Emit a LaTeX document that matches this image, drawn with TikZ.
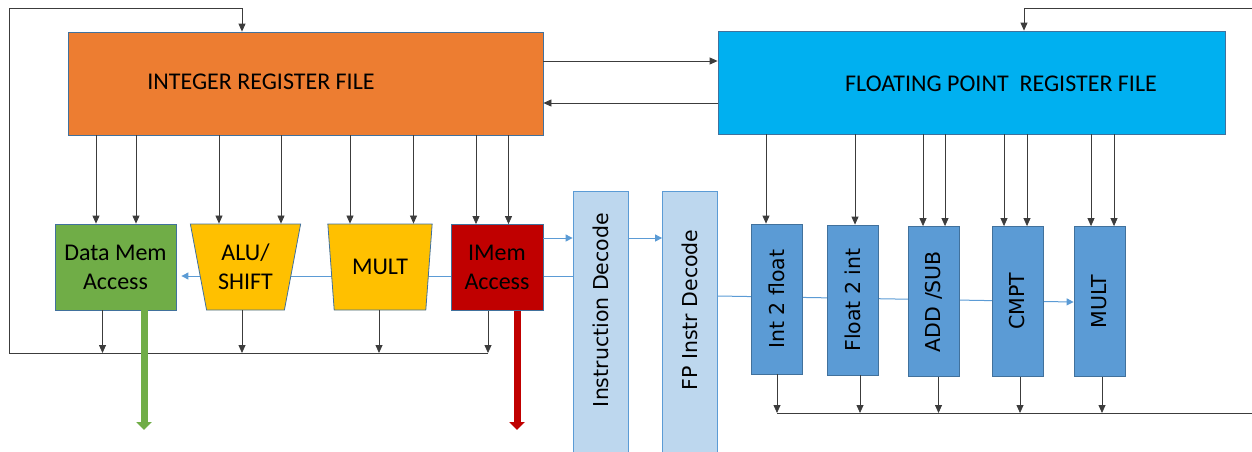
\documentclass[tikz,border=0pt]{standalone}
\usepackage{fontspec}
\setmainfont{Carlito}
\newfontfamily\vfont{DejaVu Sans}
\usetikzlibrary{arrows.meta,shapes.geometric,backgrounds}
\definecolor{cpuorange}{RGB}{237,125,49}
\definecolor{cpucyan}{RGB}{0,176,240}
\definecolor{cpugreen}{RGB}{112,173,71}
\definecolor{cpuyellow}{RGB}{255,192,0}
\definecolor{cpured}{RGB}{192,0,0}
\definecolor{cpublue}{RGB}{91,155,213}
\definecolor{cpupale}{RGB}{189,215,238}
\definecolor{cpuedge}{RGB}{65,113,156}
\definecolor{cpuwire}{RGB}{60,60,60}
\tikzset{
  regbox/.style={draw=cpuedge, line width=0.8pt, minimum height=103pt, inner sep=0pt},
  regtext/.style={font=\fontsize{24}{28}\selectfont},
  unitbox/.style={draw=cpuedge, line width=0.8pt, minimum height=86pt, align=center,
    inner sep=0pt, font=\fontsize{24}{29}\selectfont},
  aluunit/.style={trapezium, trapezium stretches=true, shape border rotate=180,
    trapezium angle=76, draw=cpuedge, fill=cpuyellow, line width=0.8pt,
    minimum height=86pt, align=center, inner sep=0pt, font=\fontsize{24}{29}\selectfont},
  decbox/.style={draw=cpublue, fill=cpupale, line width=0.8pt, minimum width=55pt,
    minimum height=270pt, inner sep=0pt},
  fpunit/.style={draw=cpuedge, fill=cpublue, line width=0.8pt, minimum width=51pt,
    minimum height=150pt, inner sep=0pt},
  vlabel/.style={rotate=90, font=\vfont\fontsize{20.5}{24}\selectfont},
  wire/.style={draw=cpuwire, line width=0.8pt},
  arr/.style={wire, -{Triangle[length=8pt,width=7pt]}},
  barr/.style={draw=cpublue, line width=1pt, -{Triangle[length=7pt,width=7pt]}},
  outarr/.style={line width=7pt, -{Triangle[length=8pt,width=15pt]}}
}
\begin{document}
\begin{tikzpicture}[x=1pt,y=-1pt]
  \useasboundingbox (0,0) rectangle (1252,451);
  \clip (0,0) rectangle (1252,451);

  % register files
  \node[regbox, fill=cpuorange, minimum width=475pt] (irf) at (305.5,83.5) {};
  \node[regtext] (irftxt) at (261,82) {INTEGER REGISTER FILE};
  \node[regbox, fill=cpucyan, minimum width=507pt] (frf) at (971.5,82.5) {};
  \node[regtext] (frftxt) at (1001,84) {FLOATING POINT\ \ REGISTER FILE};

  % integer side units
  \node[unitbox, fill=cpugreen, minimum width=121pt] (dmem) at (115.5,267) {Data Mem\\Access};
  \node[aluunit, minimum width=111pt] (alu) at (245.5,267) {ALU/\\SHIFT};
  \node[aluunit, minimum width=105pt] (imul) at (380,267) {MULT};
  \node[unitbox, fill=cpured, minimum width=92pt] (imem) at (497,267.5) {IMem\\Access};

  % decode stages
  \node[decbox] (idec) at (600.5,326) {};
  \node[vlabel] (idectxt) at (600.5,310) {Instruction Decode};
  \node[decbox] (fdec) at (690,326) {};
  \node[vlabel] (fdectxt) at (690,310) {FP Instr Decode};

  % floating point units
  \node[fpunit] (fi2f) at (776.5,299) {};
  \node[vlabel] (fi2ftxt) at (fi2f) {Int 2 float};
  \node[fpunit] (ff2i) at (852.5,300) {};
  \node[vlabel] (ff2itxt) at (ff2i) {Float 2 int};
  \node[fpunit] (fadd) at (934,301.5) {};
  \node[vlabel] (faddtxt) at (fadd) {ADD /SUB};
  \node[fpunit] (fcmp) at (1017.5,301.5) {};
  \node[vlabel] (fcmptxt) at (fcmp) {CMPT};
  \node[fpunit] (fmul) at (1099.5,301.5) {};
  \node[vlabel] (fmultxt) at (fmul) {MULT};

  % operands from the integer register file
  \draw[arr] (96,0 |- irf.south) -- (96,0 |- dmem.north);
  \draw[arr] (136,0 |- irf.south) -- (136,0 |- dmem.north);
  \draw[arr] (219,0 |- irf.south) -- (219,0 |- alu.north);
  \draw[arr] (281,0 |- irf.south) -- (281,0 |- alu.north);
  \draw[arr] (350,0 |- irf.south) -- (350,0 |- imul.north);
  \draw[arr] (413.5,0 |- irf.south) -- (413.5,0 |- imul.north);
  \draw[arr] (476,0 |- irf.south) -- (476,0 |- imem.north);
  \draw[arr] (508.5,0 |- irf.south) -- (508.5,0 |- imem.north);

  % integer write back
  \coordinate (ibus) at (488,353);
  \coordinate (ifb) at (9,8);
  \draw[arr] (102.5,0 |- dmem.south) -- (102.5,0 |- ibus);
  \draw[arr] (242,0 |- alu.south) -- (242,0 |- ibus);
  \draw[arr] (379,0 |- imul.south) -- (379,0 |- ibus);
  \draw[arr] (ibus |- imem.south) -- (ibus);
  \draw[arr] (ibus) -- (ibus -| ifb) -- (ifb) -- (242,0 |- ifb) -- (242,0 |- irf.north);

  % between the register files
  \draw[arr] (irf.east |- 0,61) -- (frf.west |- 0,61);
  \draw[arr] (frf.west |- 0,103) -- (irf.east |- 0,103);

  % operands from the fp register file
  \draw[arr] (766,0 |- frf.south) -- (766,0 |- fi2f.north);
  \draw[arr] (855,0 |- frf.south) -- (855,0 |- ff2i.north);
  \draw[arr] (923,0 |- frf.south) -- (923,0 |- fadd.north);
  \draw[arr] (945,0 |- frf.south) -- (945,0 |- fadd.north);
  \draw[arr] (1004,0 |- frf.south) -- (1004,0 |- fcmp.north);
  \draw[arr] (1027,0 |- frf.south) -- (1027,0 |- fcmp.north);
  \draw[arr] (1091,0 |- frf.south) -- (1091,0 |- fmul.north);
  \draw[arr] (1114,0 |- frf.south) -- (1114,0 |- fmul.north);

  % fp write back
  \coordinate (fbus) at (1252,413);
  \coordinate (ffb) at (1252,8);
  \draw[arr] (777,0 |- fi2f.south) -- (777,0 |- fbus);
  \draw[arr] (860,0 |- ff2i.south) -- (860,0 |- fbus);
  \draw[arr] (938.5,0 |- fadd.south) -- (938.5,0 |- fbus);
  \draw[arr] (1020,0 |- fcmp.south) -- (1020,0 |- fbus);
  \draw[arr] (1102,0 |- fmul.south) -- (1102,0 |- fbus);
  \draw[wire] (777,0 |- fbus) -- (fbus);
  \draw[arr] (ffb) -- (1024,0 |- ffb) -- (1024,0 |- frf.north);

  % memory outputs
  \coordinate (dout) at (144,430);
  \coordinate (iout) at (517,430);
  \draw[outarr, cpugreen] (dout |- dmem.south) -- (dout);
  \draw[outarr, cpured] (iout |- imem.south) -- (iout);

  % instruction flow
  \draw[barr] (imem.east |- 0,238) -- (idec.west |- 0,238);
  \draw[barr] (idec.east |- 0,238) -- (fdec.west |- 0,238);
  \begin{scope}[on background layer]
    \draw[barr, shorten >=5pt] (idec.west |- 0,276) -- (dmem.east |- 0,276);
    \draw[barr] (fdec.east |- 0,296) -- (fmul.west |- 0,302);
  \end{scope}
\end{tikzpicture}
\end{document}
